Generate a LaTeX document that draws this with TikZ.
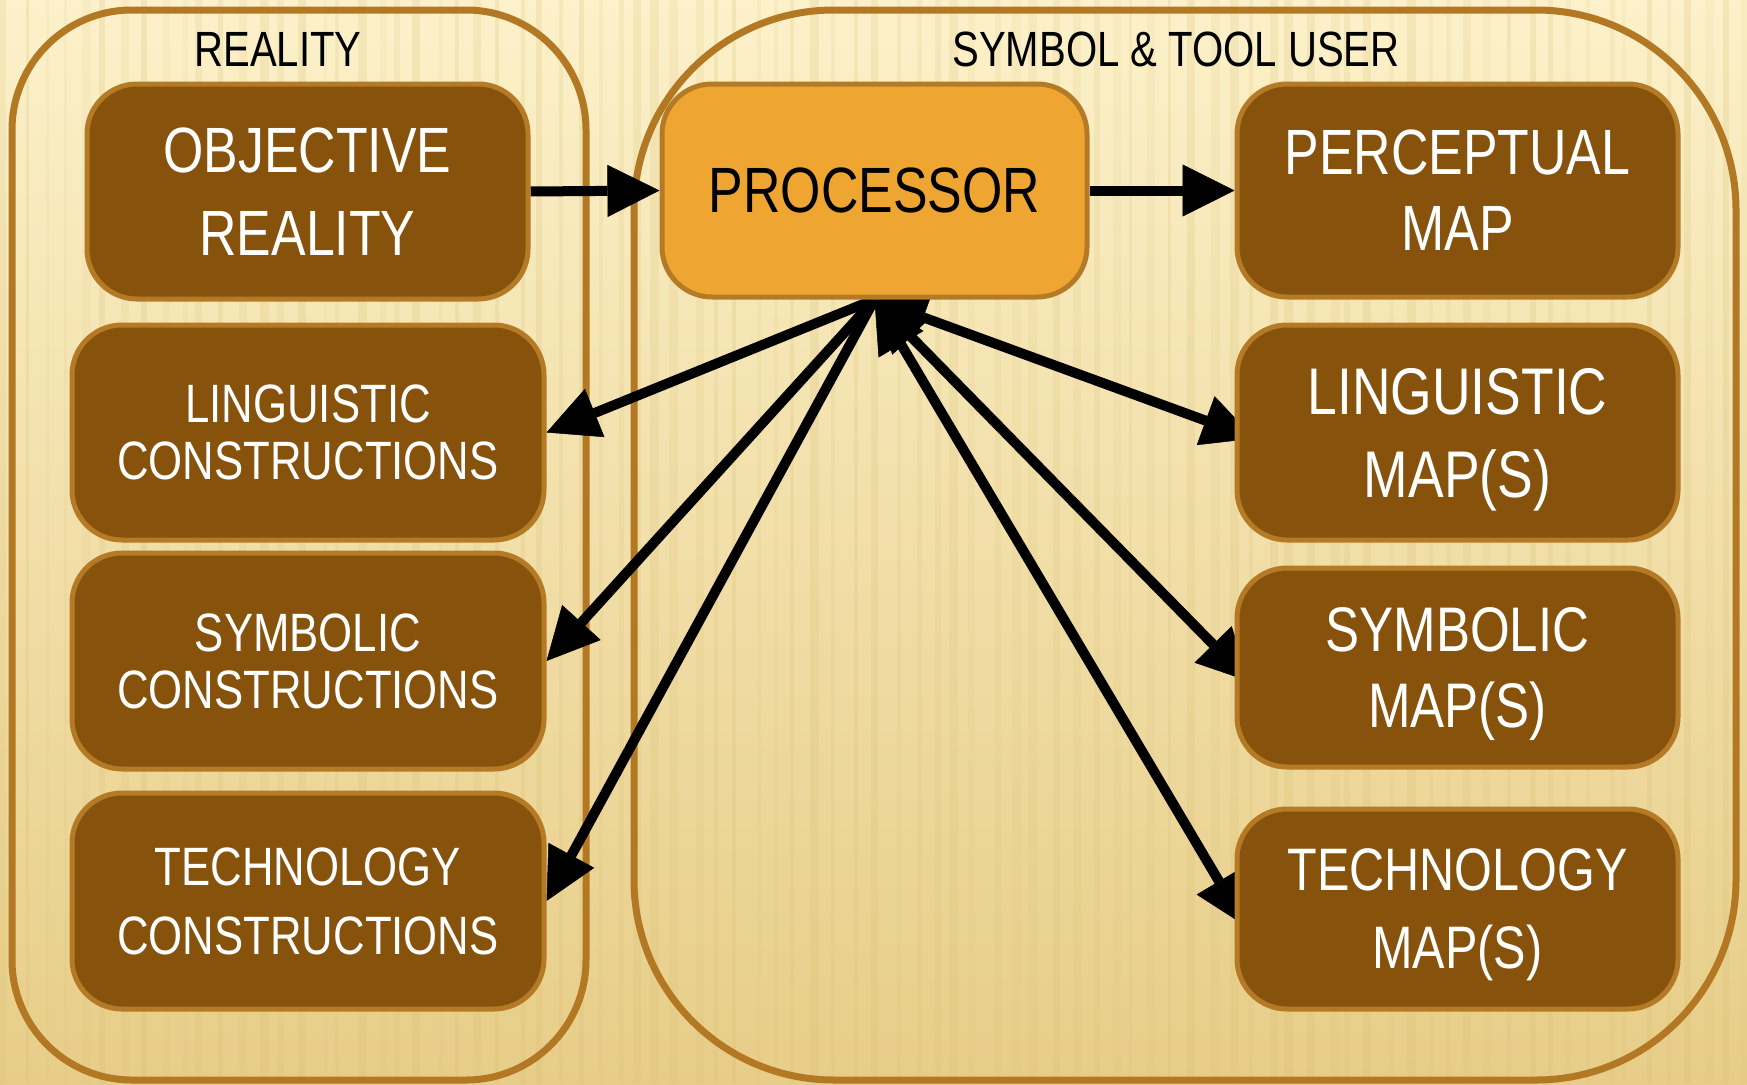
\documentclass[tikz,border=0pt]{standalone}
\usepackage{fontspec}
\newfontfamily\cond{Liberation Sans}[FakeStretch=0.81]
\usetikzlibrary{arrows.meta,calc}

\definecolor{bgtop}{HTML}{FCF1CA}
\definecolor{bgmid}{HTML}{F7E6B0}
\definecolor{bgbottom}{HTML}{E7CD88}
\definecolor{stripe}{HTML}{D8BD70}
\definecolor{frameline}{HTML}{B27823}
\definecolor{boxfill}{HTML}{87530C}
\definecolor{boxline}{HTML}{B57A26}
\definecolor{procfill}{HTML}{EEA531}

\pgfdeclarelayer{bg}
\pgfdeclarelayer{links}
\pgfsetlayers{bg,links,main}

\begin{document}
\begin{tikzpicture}[x=1pt,y=-1pt,
  >={Triangle[length=52pt,width=52pt,line width=0.5pt]},
  container/.style={draw=frameline,line width=7pt},
  hdr/.style={font=\cond\fontsize{49.5}{55}\selectfont,text=black,inner sep=0pt,anchor=base},
  box/.style={draw=boxline,line width=5pt,fill=boxfill,rounded corners=50pt,
    text=white,align=center,inner sep=0pt},
  proc/.style={box,fill=procfill,text=black},
  bigtext/.style={font=\cond\fontsize{64}{83}\selectfont},
  smalltext/.style={font=\cond\fontsize{54}{57}\selectfont},
  link/.style={draw=black,line width=10pt}]

\useasboundingbox (0,0) rectangle (1747,1084);

% boxes of the two panels
\node[box,bigtext,minimum width=441pt,minimum height=215pt] (obj) at (307.5,191.5) {OBJECTIVE\\REALITY};
\node[proc,bigtext,minimum width=425pt,minimum height=213pt] (proc) at (874.5,190.5) {PROCESSOR};
\node[box,font=\cond\fontsize{64}{76}\selectfont,text depth=-5pt,minimum width=441pt,minimum height=213pt] (perc) at (1457.5,190.5) {PERCEPTUAL\\MAP};

\node[box,smalltext,minimum width=472pt,minimum height=215pt] (lc) at (308,432.5) {LINGUISTIC\\CONSTRUCTIONS};
\node[box,smalltext,minimum width=472pt,minimum height=216pt] (sc) at (308,661) {SYMBOLIC\\CONSTRUCTIONS};
\node[box,font=\cond\fontsize{54}{69}\selectfont,minimum width=472pt,minimum height=216pt] (tc) at (308,901) {TECHNOLOGY\\CONSTRUCTIONS};

\node[box,font=\cond\fontsize{66}{83}\selectfont,text depth=0pt,minimum width=441pt,minimum height=215pt] (lm) at (1457.5,432.5) {LINGUISTIC\\MAP(S)};
\node[box,font=\cond\fontsize{63}{76}\selectfont,text depth=0pt,minimum width=441pt,minimum height=199pt] (sm) at (1457.5,667.5) {SYMBOLIC\\MAP(S)};
\node[box,font=\cond\fontsize{60}{78}\selectfont,text depth=0pt,minimum width=441pt,minimum height=200pt] (tm) at (1457.5,909) {TECHNOLOGY\\MAP(S)};

% panel headings
\node[hdr] (realityhdr) at (278,66) {REALITY};
\node[hdr] (userhdr) at (1176,66) {SYMBOL \& TOOL USER};

% background, stripes and panel frames
\begin{pgfonlayer}{bg}
  \shade[top color=bgtop,middle color=bgmid,bottom color=bgbottom] (0,0) rectangle (1747,1084);
  \pgfmathsetseed{12}
  \foreach \i in {0,...,88} {
    \pgfmathsetmacro\xx{\i*19.8+rnd*9}
    \pgfmathsetmacro\ww{3+rnd*6}
    \pgfmathsetmacro\oo{0.08+rnd*0.14}
    \draw[stripe,opacity=\oo,line width=\ww pt] (\xx,0) -- (\xx,1084);
  }
  \draw[container,rounded corners=120pt] (12,10) rectangle (586,1080);
  \draw[container,rounded corners=200pt] (634,10) rectangle (1736,1080);
\end{pgfonlayer}

% connectors
\begin{pgfonlayer}{links}
  \draw[link,->] (obj.east) -- (proc.west);
  \draw[link,->] (proc.east) -- (perc.west);
  \draw[link,->] (proc.south) -- (lc.east);
  \draw[link,->] (proc.south) -- (sc.east);
  \draw[link,->] (proc.south) -- (tc.east);
  \draw[link,<->] (proc.south) -- ($(lm.west)+(20,6)$);
  \draw[link,<->] (proc.south) -- ($(sm.west)+(15,14)$);
  \draw[link,<->] (proc.south) -- ($(tm.west)+(11,17)$);
\end{pgfonlayer}
\end{tikzpicture}
\end{document}
